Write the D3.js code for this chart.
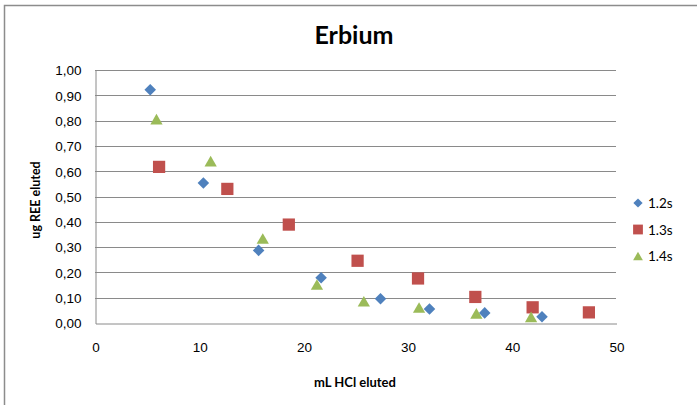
<!DOCTYPE html>
<html>
<head>
<meta charset="utf-8">
<script src="https://cdn.jsdelivr.net/npm/d3@7"></script>
<style>
  html, body { margin: 0; padding: 0; background: #fff; }
  svg { display: block; font-family: Lato, "Open Sans", sans-serif; }
</style>
</head>
<body>
<script>
// Erbium elution data: mL HCl eluted vs ug REE eluted, three elution runs
const seriesNames = ["1.2s", "1.3s", "1.4s"];
const seriesColors = ["#4F81BD", "#C0504D", "#9BBB59"];
const seriesShapes = ["diamond", "square", "triangle"];

const x12 = [5.3, 10.4, 15.7, 21.7, 27.4, 32.1, 37.4, 42.9];
const y12 = [0.922, 0.553, 0.287, 0.179, 0.096, 0.055, 0.040, 0.025];

const x13 = [6.15, 12.7, 18.6, 25.2, 31.0, 36.5, 42.0, 47.4];
const y13 = [0.617, 0.530, 0.389, 0.246, 0.176, 0.103, 0.062, 0.042];

const x14 = [5.9, 11.1, 16.1, 21.3, 25.8, 31.1, 36.6, 41.85];
const y14 = [0.806, 0.640, 0.334, 0.152, 0.086, 0.061, 0.038, 0.024];

const xTicks = [0, 10, 20, 30, 40, 50];
const yTicks = [0, 0.1, 0.2, 0.3, 0.4, 0.5, 0.6, 0.7, 0.8, 0.9, 1.0];

const series = [
  { xs: x12, ys: y12 },
  { xs: x13, ys: y13 },
  { xs: x14, ys: y14 }
].map((s, i) => ({
  name: seriesNames[i],
  color: seriesColors[i],
  shape: seriesShapes[i],
  points: s.xs.map((v, j) => ({ x: v, y: s.ys[j] }))
}));

const W = 697, H = 405;
const plot = { left: 95, right: 616, top: 70, bottom: 323 };

const svg = d3.select("body").append("svg")
  .attr("width", W).attr("height", H);

// outer chart frame
svg.append("path")
  .attr("d", `M4.5,${H} V5.5 H${W}`)
  .attr("fill", "none")
  .attr("stroke", "#8c8c8c")
  .attr("stroke-width", 1.5);

const x = d3.scaleLinear().domain([0, 50]).range([plot.left, plot.right]);
const y = d3.scaleLinear().domain([0, 1]).range([plot.bottom, plot.top]);

// horizontal gridlines
svg.append("g")
  .selectAll("line")
  .data(yTicks.slice(1))
  .join("line")
  .attr("x1", plot.left).attr("x2", plot.right)
  .attr("y1", d => Math.round(y(d)) + 0.5)
  .attr("y2", d => Math.round(y(d)) + 0.5)
  .attr("stroke", "#8a8a8a")
  .attr("stroke-width", 1);

// y axis
const yAxis = d3.axisLeft(y)
  .tickValues(yTicks)
  .tickSize(0)
  .tickPadding(14)
  .tickFormat(d => d3.format(".2f")(d).replace(".", ","));
const gy = svg.append("g")
  .attr("transform", `translate(${plot.left + 0.5},0.5)`)
  .call(yAxis);
gy.select(".domain").attr("stroke", "#8a8a8a");
gy.selectAll("text")
  .attr("font-size", 13.5)
  .attr("fill", "#000");

// x axis
const xAxis = d3.axisBottom(x)
  .tickValues(xTicks)
  .tickSize(0)
  .tickPadding(19);
const gx = svg.append("g")
  .attr("transform", `translate(0.5,${plot.bottom + 0.5})`)
  .call(xAxis);
gx.select(".domain").attr("stroke", "#8a8a8a");
gx.selectAll("text")
  .attr("font-size", 13.5)
  .attr("fill", "#000");

// triangle marker centred on its bounding box
const boxTriangle = {
  draw(ctx, size) {
    const s = Math.sqrt(size * 4 / Math.sqrt(3));
    const h = s * Math.sqrt(3) / 2;
    ctx.moveTo(0, -h / 2);
    ctx.lineTo(s / 2, h / 2);
    ctx.lineTo(-s / 2, h / 2);
    ctx.closePath();
  }
};

// marker shapes
const symbolFor = {
  diamond: d3.symbol().type(d3.symbolDiamond2).size(85),
  square: d3.symbol().type(d3.symbolSquare).size(150),
  triangle: d3.symbol().type(boxTriangle).size(65)
};

series.forEach(s => {
  svg.append("g")
    .selectAll("path")
    .data(s.points)
    .join("path")
    .attr("d", symbolFor[s.shape])
    .attr("transform", d => `translate(${x(d.x)},${y(d.y)})`)
    .attr("fill", s.color);
});

// title
svg.append("text")
  .attr("x", 354).attr("y", 44)
  .attr("text-anchor", "middle")
  .attr("font-size", 25)
  .attr("font-weight", "bold")
  .text("Erbium");

// axis titles
svg.append("text")
  .attr("x", 355).attr("y", 387)
  .attr("text-anchor", "middle")
  .attr("font-size", 13)
  .attr("font-weight", "bold")
  .text("mL HCl eluted");

svg.append("text")
  .attr("transform", "translate(40,200) rotate(-90)")
  .attr("text-anchor", "middle")
  .attr("font-size", 12.5)
  .attr("font-weight", "bold")
  .text("ug REE  eluted");

// legend
const legend = svg.append("g");
series.forEach((s, i) => {
  const ly = 203 + i * 26.5;
  legend.append("path")
    .attr("d", symbolFor[s.shape])
    .attr("transform", `translate(638,${ly}) scale(0.8)`)
    .attr("fill", s.color);
  legend.append("text")
    .attr("x", 648).attr("y", ly + 5)
    .attr("font-size", 13.5)
    .text(s.name);
});
</script>
</body>
</html>
